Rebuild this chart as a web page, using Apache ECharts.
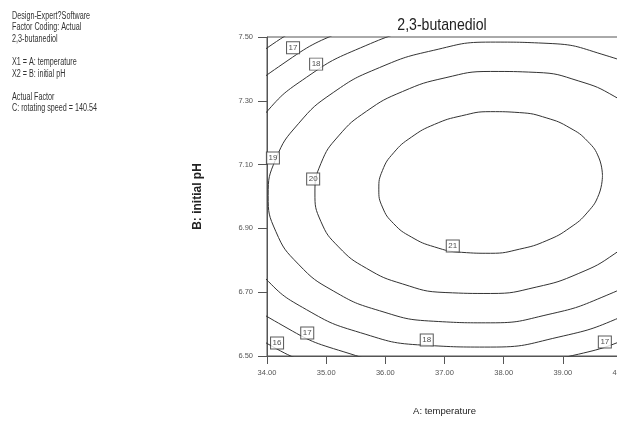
<!DOCTYPE html>
<html><head><meta charset="utf-8">
<script src="https://cdn.jsdelivr.net/npm/echarts@6/dist/echarts.min.js"></script>
<style>html,body{margin:0;padding:0;background:#fff}#c{width:617px;height:422px}</style>
</head><body><div id="c"></div>
<script>
const xTicks = [34, 35, 36, 37, 38, 39, 40];
const yTicks = [6.5, 6.7, 6.9, 7.1, 7.3, 7.5];
const levels = [16, 17, 18, 19, 20, 21];
// contour points [temperature, initial pH]
const c16 = [[43.25,7.104],[43.06,7.268],[42.52,7.416],[41.65,7.540],[40.51,7.629],[39.20,7.678],[37.78,7.684],[36.37,7.647],[35.05,7.569],[33.91,7.454],[33.05,7.312],[32.50,7.152],[32.31,6.984],[32.50,6.820],[33.05,6.672],[33.91,6.549],[35.05,6.459],[36.37,6.410],[37.78,6.404],[39.20,6.441],[40.51,6.520],[41.65,6.634],[42.52,6.776],[43.06,6.936]];
const c17 = [[42.74,7.099],[42.57,7.247],[42.08,7.382],[41.29,7.494],[40.26,7.575],[39.06,7.620],[37.78,7.625],[36.50,7.591],[35.30,7.520],[34.27,7.416],[33.48,7.287],[32.99,7.142],[32.82,6.989],[32.99,6.841],[33.48,6.706],[34.27,6.595],[35.30,6.513],[36.50,6.468],[37.78,6.463],[39.06,6.497],[40.26,6.568],[41.29,6.672],[42.08,6.801],[42.57,6.946]];
const c18 = [[42.18,7.092],[42.03,7.224],[41.59,7.344],[40.89,7.443],[39.98,7.515],[38.92,7.555],[37.78,7.560],[36.64,7.530],[35.58,7.466],[34.67,7.374],[33.97,7.260],[33.53,7.131],[33.38,6.996],[33.53,6.864],[33.97,6.744],[34.67,6.645],[35.58,6.573],[36.64,6.534],[37.78,6.528],[38.92,6.559],[39.98,6.622],[40.89,6.714],[41.59,6.828],[42.03,6.957]];
const c19 = [[41.54,7.085],[41.41,7.198],[41.03,7.300],[40.44,7.384],[39.66,7.446],[38.75,7.480],[37.78,7.484],[36.81,7.458],[35.90,7.404],[35.12,7.326],[34.53,7.228],[34.15,7.118],[34.02,7.003],[34.15,6.890],[34.53,6.788],[35.12,6.704],[35.90,6.642],[36.81,6.609],[37.78,6.604],[38.75,6.630],[39.66,6.684],[40.44,6.762],[41.03,6.860],[41.41,6.970]];
const c20 = [[40.75,7.077],[40.65,7.166],[40.36,7.247],[39.88,7.313],[39.27,7.362],[38.55,7.389],[37.78,7.392],[37.01,7.372],[36.29,7.329],[35.68,7.267],[35.21,7.190],[34.91,7.103],[34.81,7.011],[34.91,6.922],[35.21,6.842],[35.68,6.775],[36.29,6.726],[37.01,6.699],[37.78,6.696],[38.55,6.716],[39.27,6.759],[39.88,6.821],[40.36,6.898],[40.65,6.986]];
const c21 = [[39.67,7.065],[39.61,7.121],[39.42,7.173],[39.12,7.215],[38.73,7.246],[38.27,7.263],[37.78,7.266],[37.29,7.253],[36.83,7.226],[36.44,7.186],[36.14,7.137],[35.95,7.081],[35.89,7.023],[35.95,6.967],[36.14,6.915],[36.44,6.873],[36.83,6.842],[37.29,6.825],[37.78,6.822],[38.27,6.835],[38.73,6.862],[39.12,6.902],[39.42,6.951],[39.61,7.007]];
const contourLabels = [[34.44,7.466,'17'],[34.83,7.415,'18'],[34.10,7.121,'19'],[34.78,7.055,'20'],[37.14,6.845,'21'],[34.17,6.541,'16'],[34.68,6.572,'17'],[36.70,6.550,'18'],[39.71,6.544,'17']];
const infoLines = ['Design-Expert?Software','Factor Coding: Actual','2,3-butanediol','','X1 = A: temperature','X2 = B: initial pH','','Actual Factor','C: rotating speed = 140.54'];
const titleText = '2,3-butanediol';
const xName = 'A: temperature';
const yName = 'B: initial pH';

const contours = [c16, c17, c18, c19, c20, c21];
const FONT = '"Liberation Sans", Arial, sans-serif';
const chart = echarts.init(document.getElementById('c'), null, {renderer: 'canvas'});
const series = contours.map((pts, i) => ({
  type: 'line', name: String(levels[i]), data: pts.concat([pts[0]]),
  smooth: 0.5, showSymbol: false, clip: true, silent: true,
  lineStyle: {color: '#333', width: 1}, z: 2
}));
series.push({
  type: 'scatter', data: contourLabels, clip: false, silent: true, z: 5,
  symbol: 'rect', symbolSize: [13, 12],
  itemStyle: {color: '#fff', borderColor: '#333', borderWidth: 1},
  label: {show: true, position: 'inside', formatter: p => p.value[2], fontSize: 8, color: '#222', fontFamily: FONT}
});
chart.setOption({
  animation: false,
  backgroundColor: '#fff',
  grid: {left: 267, top: 37, width: 355, height: 319, outerBoundsMode: 'none', containLabel: false,
         show: true, borderColor: '#555', borderWidth: 1, backgroundColor: 'transparent'},
  xAxis: {
    type: 'value', min: xTicks[0], max: xTicks[xTicks.length - 1], interval: 1,
    name: xName, nameLocation: 'middle', nameGap: 50,
    nameTextStyle: {fontFamily: FONT, fontSize: 9.5, color: '#222'},
    axisLine: {lineStyle: {color: '#555'}},
    axisTick: {length: 8, lineStyle: {color: '#555'}},
    axisLabel: {margin: 13, fontSize: 7.5, color: '#555', fontFamily: FONT, formatter: v => v.toFixed(2)},
    splitLine: {show: false}
  },
  yAxis: {
    type: 'value', min: yTicks[0], max: yTicks[yTicks.length - 1], interval: 0.2,
    name: yName, nameLocation: 'middle', nameGap: 63, nameRotate: 90,
    nameTextStyle: {fontFamily: FONT, fontSize: 12, fontWeight: 'bold', color: '#222'},
    axisLine: {show: true, lineStyle: {color: '#555'}},
    axisTick: {show: true, length: 9, lineStyle: {color: '#555'}},
    axisLabel: {margin: 14, fontSize: 7.5, color: '#555', fontFamily: FONT, formatter: v => v.toFixed(2)},
    splitLine: {show: false}
  },
  graphic: [
    {type: 'text', x: 12, y: 10, scaleX: 0.72, style: {text: infoLines.join('\n'), fontFamily: FONT, fontSize: 10, lineHeight: 11.6, fill: '#333'}},
    {type: 'text', x: 442, y: 25, scaleX: 0.83, style: {text: titleText, fontFamily: FONT, fontSize: 17, fill: '#222', align: 'center', verticalAlign: 'middle'}}
  ],
  series: series
});
</script></body></html>
